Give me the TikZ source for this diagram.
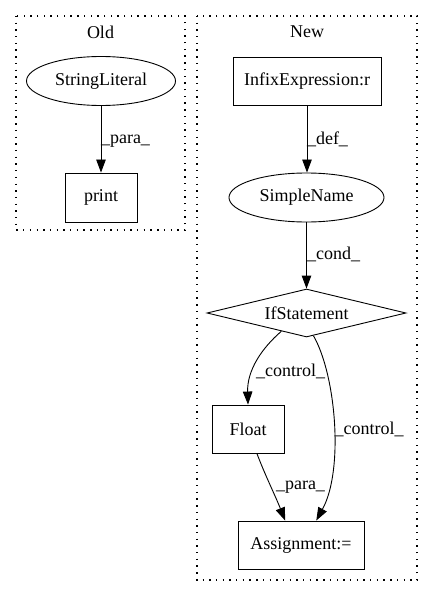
\documentclass[tikz,border=0pt]{standalone}
\usepackage{fontspec}
\setmainfont{Liberation Serif}
\usetikzlibrary{shapes.geometric,arrows.meta}
\begin{document}
\begin{tikzpicture}[x=1pt,y=-1pt,
  every node/.style={font=\fontsize{18pt}{21pt}\selectfont, inner sep=0pt},
  box/.style={draw, line width=0.9pt, rectangle},
  oval/.style={draw, line width=0.9pt, ellipse},
  cond/.style={draw, line width=0.9pt, diamond, aspect=4.15},
  cluster/.style={line width=1.1pt, dash pattern=on 1.4pt off 5.3pt},
  edge/.style={line width=0.9pt, -{Triangle[length=13pt,width=9.5pt]}},
  lbl/.style={anchor=center}]
\useasboundingbox (0,0) rectangle (432,596);
% clusters
\draw[cluster] (16,16) rectangle (185,230);
\draw[cluster] (197,16) rectangle (417,580);
\node (oldlbl) at (100.5,32) {Old};
\node (newlbl) at (307,32) {New};
% Old
\node[oval, minimum width=149pt, minimum height=49pt] (sl) at (101,81) {StringLiteral};
\node[box, minimum width=72pt, minimum height=49pt] (pr) at (101,197.5) {print};
% New
\node[box, minimum width=148pt, minimum height=48pt] (ie) at (307,81) {InfixExpression:r};
\node[oval, minimum width=155pt, minimum height=49pt] (sn) at (306.5,197.5) {SimpleName};
\node[cond, minimum width=199pt, minimum height=48pt] (if) at (306.5,313) {IfStatement};
\node[box, minimum width=72pt, minimum height=48pt] (fl) at (248,429) {Float};
\node[box, minimum width=126pt, minimum height=48pt] (asg) at (301,545) {Assignment:=};
% edges
\draw[edge] (sl.south) -- (pr.north);
\draw[edge] (ie.south) -- (ie.south |- sn.north);
\draw[edge] (sn.south) -- (sn.south |- if.north);
\draw[edge] (if.216) .. controls (262,348) and (247,370) .. (fl.north);
\draw[edge] (if.287) .. controls (336,375) and (344,470) .. (asg.58);
\draw[edge] (fl.290) .. controls (265,475) and (275,495) .. (asg.123);
% labels
\node[lbl] (l1) at (125.5,141) {\_para\_};
\node[lbl] (l2) at (327.5,139) {\_def\_};
\node[lbl] (l3) at (333.5,254) {\_cond\_};
\node[lbl] (l4) at (290.5,371) {\_control\_};
\node[lbl] (l5) at (369,429) {\_control\_};
\node[lbl] (l6) at (300.5,487) {\_para\_};
\end{tikzpicture}
\end{document}
